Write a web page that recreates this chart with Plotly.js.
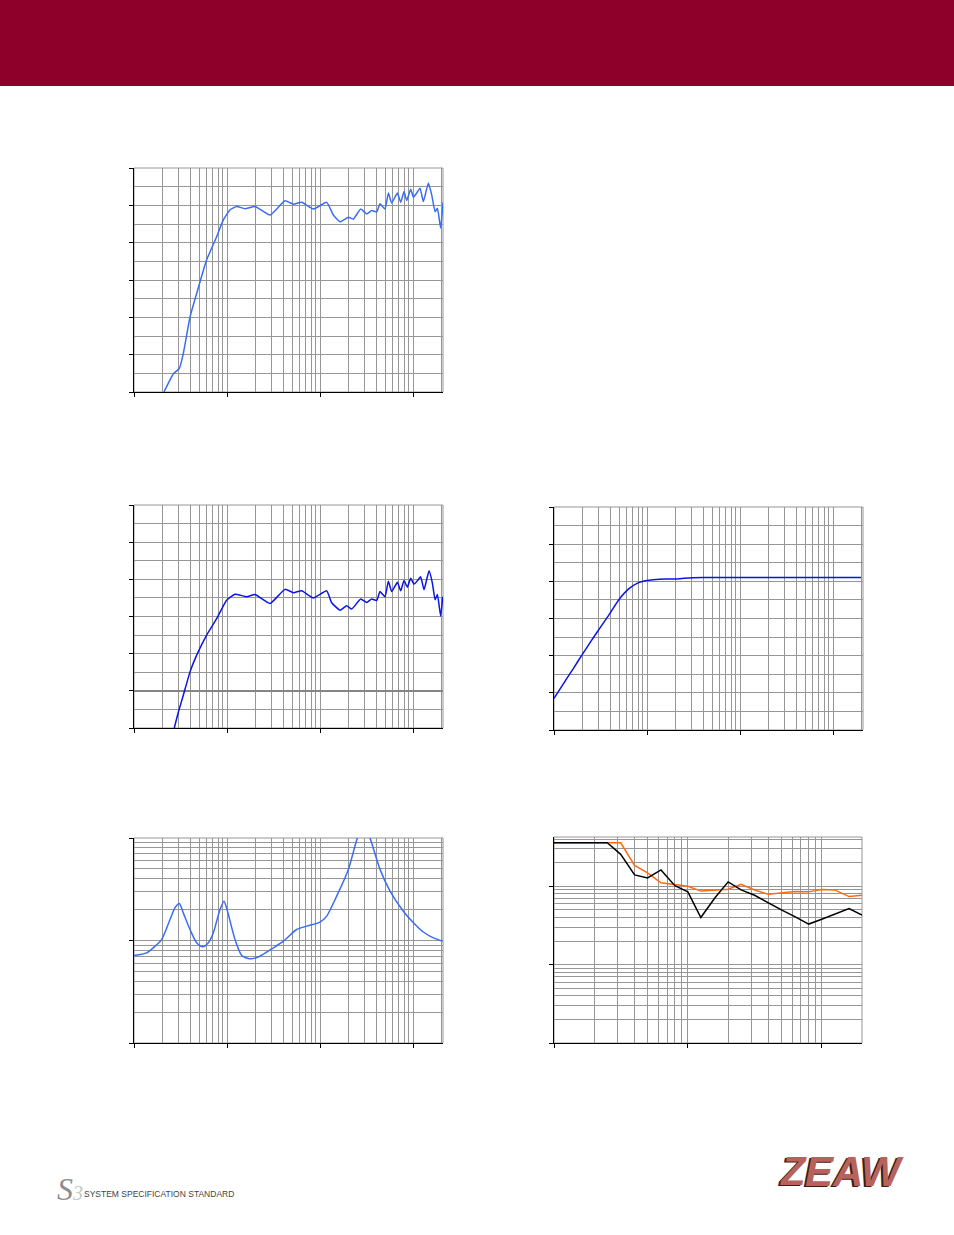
<!DOCTYPE html>
<html>
<head>
<meta charset="utf-8">
<script src="https://cdn.plot.ly/plotly-3.0.1.min.js"></script>
<style>
  html, body { margin: 0; padding: 0; background: #ffffff; }
  #chart { width: 954px; height: 1235px; }
</style>
</head>
<body>
<div id="chart"></div>
<script>
// ---------- DATA ----------
// Chart 1: frequency response (Hz, dB)
const f1 = [21, 26.5, 30.7, 33.9, 40, 47.2, 60.4, 77.4, 91.3, 108, 127, 156, 200, 290, 420, 517, 635, 848, 1180, 1390, 1640, 2020, 2280, 2735, 3175, 3595, 4065, 4420, 5000, 5430, 5900, 6790, 7370, 8000, 8550, 9440, 10090, 10950, 11890, 12910, 14620, 15880, 17260, 18290, 19820, 21000];
const spl1 = [60, 64.9, 66.3, 70.3, 80.1, 86.4, 95.4, 101.6, 106.1, 108.8, 109.7, 109.1, 109.7, 107.4, 111.2, 110.3, 110.8, 109, 110.8, 107.4, 105.6, 106.8, 106.3, 109, 107.7, 108.6, 108.2, 110.4, 109, 113.3, 110.6, 113.3, 110.8, 113.7, 111.3, 114.3, 112.2, 113.3, 114.6, 111, 116, 112.8, 108.3, 109.2, 103.9, 110.8];

// Chart 2: frequency response (Hz, dB relative)
const f2 = [27.1, 30, 33.9, 40, 47.2, 60.4, 77.4, 99, 122, 163, 200, 290, 420, 517, 635, 848, 1180, 1335, 1640, 1935, 2190, 2735, 3175, 3595, 4065, 4420, 5000, 5430, 5900, 6790, 7370, 8000, 8690, 9440, 10250, 11130, 12080, 13130, 14860, 16140, 17260, 18290, 19820, 20840];
const spl2 = [-10, -5.7, -1.2, 5.1, 9.6, 15, 19.4, 24.4, 26, 25.3, 25.9, 23.5, 27.3, 26.4, 26.9, 25, 26.9, 23.7, 21.7, 22.9, 22, 24.7, 23.8, 24.7, 24.3, 26.7, 25.3, 29.5, 26.7, 29.2, 26.9, 29.7, 27.9, 30.3, 28.7, 29.6, 30.7, 27.2, 32.3, 29, 24.5, 25.9, 20.1, 25.3];

// Chart 3: high-pass response (Hz, dB)
const f3 = [10, 12.5, 16, 20, 25, 31.5, 40, 50, 63, 80, 100, 125, 160, 200, 250, 400, 1000, 5000, 20000];
const spl3 = [68.5, 72.3, 76.4, 80.2, 83.9, 87.6, 91.4, 95.1, 97.9, 99.6, 100.2, 100.5, 100.6, 100.6, 100.8, 101, 101, 101, 101];

// Chart 4: impedance (Hz, ohm)
const f4 = [10, 13.7, 16.1, 19.8, 24.4, 27.6, 30.7, 33.9, 40, 47.2, 54.7, 63, 71.3, 84.1, 92.9, 100, 122, 144, 177, 226, 315, 404, 561, 719, 1000, 1180, 1510, 2018, 2520, 2950, 3450, 4420, 5660, 7870, 10090, 12910, 16560, 20840];
const z4 = [7.13, 7.57, 8.48, 10.2, 16, 20.9, 23, 18.6, 12.8, 9.49, 8.67, 9.49, 11.9, 20.1, 24.2, 20.1, 10.2, 7.13, 6.62, 7.03, 8.48, 9.85, 12.8, 13.8, 15.1, 17.3, 27.1, 49.4, 100, 140, 100, 49.4, 30.3, 19.3, 14.9, 12.1, 10.6, 9.85];

// Chart 5: beamwidth (Hz, degrees)
const f5 = [100, 125, 160, 200, 250, 315, 400, 500, 630, 800, 1000, 1250, 1600, 2000, 2500, 3150, 4000, 5000, 6300, 8000, 10000, 12500, 16000, 20000];
const beamH = [360, 360, 360, 360, 360, 256, 140, 128, 162, 102, 85, 40, 72, 114, 90, 77, 61, 50, 41, 33, 38, 44, 52, 43];
const beamV = [360, 360, 360, 360, 360, 360, 185, 149, 111, 106, 100, 87, 89, 92, 106, 90, 79, 83, 86, 85, 91, 90, 74, 77];

// ---------- STYLE ----------
const W = 954, H = 1235;
const GRID = '#969696';
const px = v => v / W;
const py = v => 1 - v / H;

function minorLog(d0, d1) {
  const out = [];
  for (let d = d0; d <= d1; d++) for (let m = 2; m <= 9; m++) out.push(m * Math.pow(10, d));
  return out;
}

function xLog(dom, anchor, range, decs) {
  return {
    type: 'log', domain: dom, anchor: anchor, range: range,
    tickmode: 'array', tickvals: decs, ticks: 'outside', ticklen: 4, tickcolor: '#000', tickwidth: 1,
    showticklabels: false, showgrid: true, gridcolor: GRID, gridwidth: 1,
    showline: true, linecolor: '#000', linewidth: 1.3, zeroline: false, fixedrange: true,
    minor: { tickmode: 'array', tickvals: minorLog(Math.floor(range[0]), Math.ceil(range[1])), showgrid: true, gridcolor: GRID, gridwidth: 1, ticks: '' }
  };
}
function yLin(dom, anchor, range, dt, mdt) {
  return {
    type: 'linear', domain: dom, anchor: anchor, range: range,
    tickmode: 'linear', tick0: range[0], dtick: dt, ticks: 'outside', ticklen: 4, tickcolor: '#000', tickwidth: 1,
    showticklabels: false, showgrid: true, gridcolor: GRID, gridwidth: 1,
    showline: true, linecolor: '#000', linewidth: 1.3, zeroline: false, fixedrange: true,
    minor: { tick0: range[0], dtick: mdt, showgrid: true, gridcolor: GRID, gridwidth: 1, ticks: '' }
  };
}
function yLog(dom, anchor, range, decs) {
  return {
    type: 'log', domain: dom, anchor: anchor, range: range,
    tickmode: 'array', tickvals: decs, ticks: 'outside', ticklen: 4, tickcolor: '#000', tickwidth: 1,
    showticklabels: false, showgrid: true, gridcolor: GRID, gridwidth: 1,
    showline: true, linecolor: '#000', linewidth: 1.3, zeroline: false, fixedrange: true,
    minor: { tickmode: 'array', tickvals: minorLog(Math.floor(range[0]), Math.ceil(range[1])), showgrid: true, gridcolor: GRID, gridwidth: 1, ticks: '' }
  };
}

const X1 = [px(134), px(443)], X2 = [px(554), px(863)];
const decHz = [10, 100, 1000, 10000];
const lx = Math.log10;

const traces = [
  { x: f1, y: spl1, xaxis: 'x', yaxis: 'y', mode: 'lines', line: { color: '#3a6cf4', width: 1.5, shape: 'spline', smoothing: 0.4 }, hoverinfo: 'skip' },
  { x: f2, y: spl2, xaxis: 'x2', yaxis: 'y2', mode: 'lines', line: { color: '#0a14e6', width: 1.5, shape: 'spline', smoothing: 0.4 }, hoverinfo: 'skip' },
  { x: f3, y: spl3, xaxis: 'x3', yaxis: 'y3', mode: 'lines', line: { color: '#0a14e6', width: 1.5, shape: 'spline', smoothing: 0.6 }, hoverinfo: 'skip' },
  { x: f4, y: z4, xaxis: 'x4', yaxis: 'y4', mode: 'lines', line: { color: '#3a6cf4', width: 1.5, shape: 'spline', smoothing: 0.7 }, hoverinfo: 'skip' },
  { x: f5, y: beamV, xaxis: 'x5', yaxis: 'y5', mode: 'lines', line: { color: '#ff6a10', width: 1.5 }, hoverinfo: 'skip' },
  { x: f5, y: beamH, xaxis: 'x5', yaxis: 'y5', mode: 'lines', line: { color: '#000000', width: 1.5 }, hoverinfo: 'skip' }
];

const y2ax = yLin([py(728), py(505)], 'x2', [-10, 50], 10, 5);
y2ax.zeroline = true; y2ax.zerolinecolor = '#858585'; y2ax.zerolinewidth = 2;

const layout = {
  width: W, height: H,
  margin: { l: 0, r: 0, t: 0, b: 0, pad: 0 },
  paper_bgcolor: '#ffffff', plot_bgcolor: '#ffffff',
  showlegend: false,
  font: { family: 'Liberation Sans, Arial, sans-serif' },
  xaxis: xLog(X1, 'y', [1, lx(21000)], decHz),
  yaxis: yLin([py(392), py(168)], 'x', [60, 120], 10, 5),
  xaxis2: xLog(X1, 'y2', [1, lx(21000)], decHz),
  yaxis2: y2ax,
  xaxis3: xLog(X2, 'y3', [1, lx(21000)], decHz),
  yaxis3: yLin([py(730), py(507)], 'x3', [60, 120], 10, 5),
  xaxis4: xLog(X1, 'y4', [1, lx(21000)], decHz),
  yaxis4: yLog([py(1043), py(838)], 'x4', [0, 2], [1, 10, 100]),
  xaxis5: xLog([px(554), px(862)], 'y5', [2, lx(20000)], [100, 1000, 10000]),
  yaxis5: yLog([py(1043), py(837)], 'x5', [0, 2.63], [1, 10, 100]),
  shapes: [
    { type: 'rect', xref: 'paper', yref: 'paper', x0: 0, x1: 1, y0: py(86), y1: 1, fillcolor: '#8e0029', line: { width: 0 }, layer: 'below' }
  ].concat(['', '2', '3', '4', '5'].map(s => ({
    type: 'rect', xref: 'x' + s + ' domain', yref: 'y' + s + ' domain', x0: 0, x1: 1, y0: 0, y1: 1,
    line: { color: GRID, width: 1 }, fillcolor: 'rgba(0,0,0,0)', layer: 'below'
  }))),
  annotations: [
    { xref: 'paper', yref: 'paper', x: px(55), y: py(1189), xanchor: 'left', yanchor: 'middle', showarrow: false,
      text: '<i>S</i><span style="color:#c6c6c6;font-size:20px"><i>3</i></span>', font: { family: 'Liberation Serif, serif', size: 32, color: '#8e8e8e' } },
    { xref: 'paper', yref: 'paper', x: px(82), y: py(1194), xanchor: 'left', yanchor: 'middle', showarrow: false,
      text: 'SYSTEM SPECIFICATION STANDARD', font: { family: 'Liberation Sans, Arial, sans-serif', size: 8.5, color: '#444444' } },
    { xref: 'paper', yref: 'paper', x: px(776), y: py(1172), xanchor: 'left', yanchor: 'middle', showarrow: false,
      text: '<b><i>Z</i></b>', font: { family: 'Liberation Sans, Arial, sans-serif', size: 40, color: '#3a1c18' } },
    { xref: 'paper', yref: 'paper', x: px(778), y: py(1171), xanchor: 'left', yanchor: 'middle', showarrow: false,
      text: '<b><i>Z</i></b>', font: { family: 'Liberation Sans, Arial, sans-serif', size: 40, color: '#b8625a' } },
    { xref: 'paper', yref: 'paper', x: px(801), y: py(1172), xanchor: 'left', yanchor: 'middle', showarrow: false,
      text: '<b><i>EAW</i></b>', font: { family: 'Liberation Sans, Arial, sans-serif', size: 42, color: '#3a1c18' } },
    { xref: 'paper', yref: 'paper', x: px(803), y: py(1171), xanchor: 'left', yanchor: 'middle', showarrow: false,
      text: '<b><i>EAW</i></b>', font: { family: 'Liberation Sans, Arial, sans-serif', size: 42, color: '#b8625a' } }
  ]
};

Plotly.newPlot('chart', traces, layout, { staticPlot: true, displayModeBar: false });
</script>
</body>
</html>
